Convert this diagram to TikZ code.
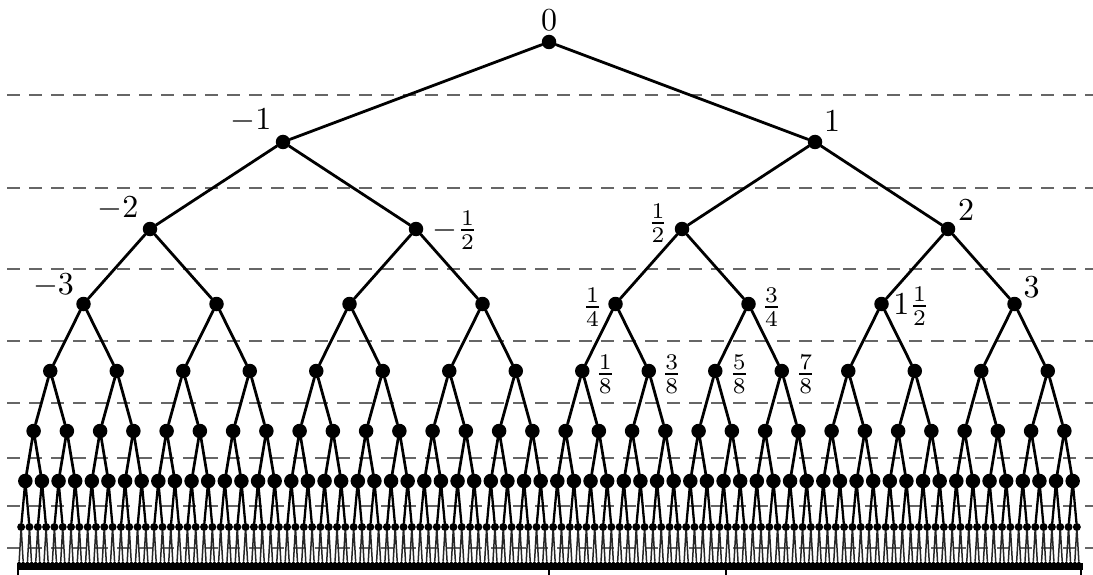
\documentclass[tikz,border=0pt]{standalone}
\usetikzlibrary{calc}
\begin{document}
\begin{tikzpicture}[x=1pt,y=-1pt,
  guide/.style={draw=black!60,line width=2.4pt,dash pattern=on 13pt off 9pt},
  dot/.style={circle,fill=black,inner sep=0pt,minimum size=#1},
  branch/.style={line width=#1,line cap=round},
  num/.style={inner sep=0pt,font=\normalsize,scale=3.2},
  axis/.style={line width=7pt},
  tick/.style={line width=1.5pt}]
\useasboundingbox (0,0) rectangle (1093,575);

% horizontal level guides
\foreach \g [count=\k] in {95,188,269,341,403,458,506,548}{
  \coordinate (gl-\k) at (7,\g);
  \coordinate (gr-\k) at (1093,\g);
  \draw[guide] (gl-\k) -- (gr-\k);
}

% tree vertices: level d has 2^d vertices
\def\ys{{42,142,229,304,371,431,481,527,563}}
\def\ds{{14.5,14.5,14.5,14.5,14.5,14.5,14.5,8,3.5}}
\foreach \d in {0,...,8}{
  \pgfmathtruncatemacro\last{2^\d-1}
  \pgfmathsetmacro\yy{\ys[\d]}
  \pgfmathsetmacro\sz{\ds[\d]}
  \foreach \i in {0,...,\last}{
    \pgfmathsetmacro\xx{17+1064*((2*\i+1)/2^(\d+1))}
    \node[dot=\sz pt] (n-\d-\i) at (\xx,\yy) {};
  }
}

% branches from each vertex to its two children
\def\ew{{2.8,2.8,2.8,2.8,2.8,2.7,2.3,1.5}}
\foreach \d in {0,...,7}{
  \pgfmathtruncatemacro\last{2^\d-1}
  \pgfmathtruncatemacro\dn{\d+1}
  \pgfmathsetmacro\w{\ew[\d]}
  \ifnum\d=7 \def\ink{black!85}\else\def\ink{black}\fi
  \foreach \i in {0,...,\last}{
    \pgfmathtruncatemacro\a{2*\i}
    \pgfmathtruncatemacro\b{2*\i+1}
    \draw[branch=\w pt,draw=\ink] (n-\d-\i) -- (n-\dn-\a) (n-\d-\i) -- (n-\dn-\b);
  }
}

% base line with ticks
\coordinate (ax-l) at (17,566);
\coordinate (ax-r) at (1083,566);
\draw[axis] (ax-l) -- (ax-r);
\foreach \t [count=\k] in {18,549,726,1081}{
  \coordinate (tk-\k) at (\t,566);
  \coordinate (tb-\k) at (\t,575);
  \draw[tick] (tk-\k) -- (tb-\k);
}

% values
\node[num] (v-0)   at ($(n-0-0)+(0,-22)$)   {$0$};
\node[num] (v-m1)  at ($(n-1-0)+(-32,-21)$) {$-1$};
\node[num] (v-p1)  at ($(n-1-1)+(17,-21)$)  {$1$};
\node[num] (v-m2)  at ($(n-2-0)+(-32,-20)$) {$-2$};
\node[num] (v-mh)  at ($(n-2-1)+(39,1)$)    {$-\frac{1}{2}$};
\node[num] (v-ph)  at ($(n-2-2)+(-24,-6)$)  {$\frac{1}{2}$};
\node[num] (v-p2)  at ($(n-2-3)+(18,-19)$)  {$2$};
\node[num] (v-m3)  at ($(n-3-0)+(-30,-18)$) {$-3$};
\node[num] (v-q1)  at ($(n-3-4)+(-23,3)$)   {$\frac{1}{4}$};
\node[num] (v-q3)  at ($(n-3-5)+(23,3)$)    {$\frac{3}{4}$};
\node[num] (v-oh)  at ($(n-3-6)+(30,2)$)    {$1\frac{1}{2}$};
\node[num] (v-p3)  at ($(n-3-7)+(17,-17)$)  {$3$};
\node[num] (v-e1)  at ($(n-4-8)+(23,3)$)    {$\frac{1}{8}$};
\node[num] (v-e3)  at ($(n-4-9)+(23,3)$)    {$\frac{3}{8}$};
\node[num] (v-e5)  at ($(n-4-10)+(24,3)$)   {$\frac{5}{8}$};
\node[num] (v-e7)  at ($(n-4-11)+(24,3)$)   {$\frac{7}{8}$};
\end{tikzpicture}
\end{document}
